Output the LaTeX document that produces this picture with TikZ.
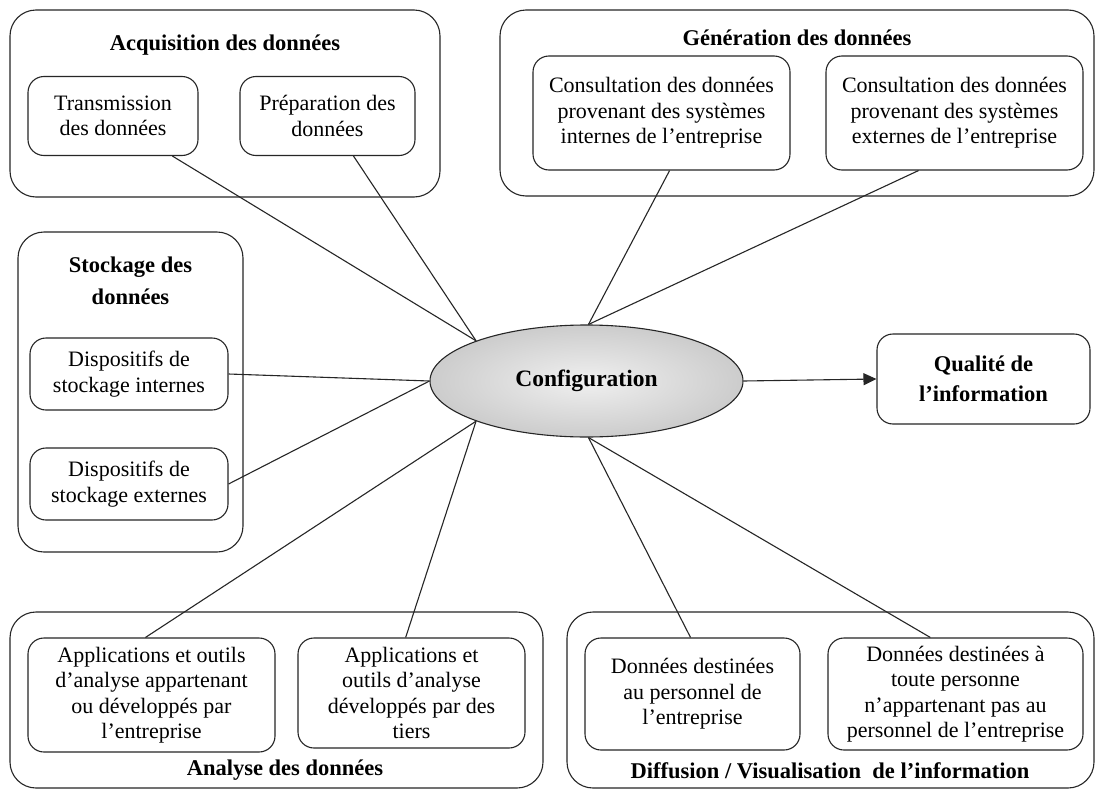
\documentclass[tikz,border=0pt]{standalone}
\usepackage{fontspec}
\setmainfont{Liberation Serif}
\usetikzlibrary{shapes.geometric,arrows.meta}
\begin{document}
\begin{tikzpicture}[x=1pt,y=-1pt,
  outerbox/.style={draw=black!85, rounded corners=26pt, line width=1.1pt, inner sep=0pt},
  innerbox/.style={draw=black!85, rounded corners=16pt, line width=1.1pt, align=center, inner sep=0pt, font=\fontsize{22}{25.5}\selectfont},
  titletext/.style={align=center, inner sep=0pt, font=\fontsize{22.5}{32}\selectfont\bfseries},
  link/.style={draw=black!85, line width=1.1pt}]
\useasboundingbox (0,0) rectangle (1104,798);
\fill[white] (0,0) rectangle (1104,798);

% Acquisition
\node[outerbox, minimum width=430pt, minimum height=187pt] (acq) at (225,103.5) {};
\node[titletext] (acqt) at (225,45) {Acquisition des données};
\node[innerbox, minimum width=170pt, minimum height=79pt] (trans) at (113,116) {Transmission\\des données};
\node[innerbox, minimum width=175pt, minimum height=79pt] (prep) at (327.5,116) {Préparation des\\données};

% Generation
\node[outerbox, minimum width=594pt, minimum height=186pt] (gen) at (797,103) {};
\node[titletext] (gent) at (797,38) {Génération des données};
\node[innerbox, minimum width=257pt, minimum height=114pt] (cint) at (661.5,113) {Consultation des données\\provenant des systèmes\\internes de l’entreprise};
\node[innerbox, minimum width=257pt, minimum height=114pt] (cext) at (954.5,113) {Consultation des données\\provenant des systèmes\\externes de l’entreprise};

% Stockage
\node[outerbox, minimum width=225pt, minimum height=320pt] (sto) at (130.5,392) {};
\node[titletext] (stot) at (130.5,281) {Stockage des\\données};
\node[innerbox, minimum width=198pt, minimum height=72pt] (dint) at (129,374) {Dispositifs de\\stockage internes};
\node[innerbox, minimum width=198pt, minimum height=72pt] (dext) at (129,484) {Dispositifs de\\stockage externes};

% Configuration
\node[ellipse, draw=black!85, line width=1.1pt, minimum width=313pt, minimum height=112pt, inner sep=0pt,
      inner color=black!6, outer color=black!20, font=\fontsize{23.5}{28}\selectfont\bfseries] (cfg) at (586.5,381) {Configuration};

% Qualite
\node[innerbox, minimum width=213pt, minimum height=90pt, font=\fontsize{22.5}{30}\selectfont\bfseries] (qual) at (983.5,379) {Qualité de\\l’information};

% Analyse
\node[outerbox, minimum width=533pt, minimum height=176pt] (ana) at (276.5,700) {};
\node[titletext] (anat) at (285,770) {Analyse des données};
\node[innerbox, minimum width=247pt, minimum height=114pt] (app1) at (151.5,695) {Applications et outils\\d’analyse appartenant\\ou développés par\\l’entreprise};
\node[innerbox, minimum width=227pt, minimum height=110pt] (app2) at (411.5,693) {Applications et\\outils d’analyse\\développés par des\\tiers};

% Diffusion
\node[outerbox, minimum width=527pt, minimum height=176pt] (dif) at (830.5,700) {};
\node[titletext] (dift) at (830,771) {Diffusion / Visualisation\ \ de l’information};
\node[innerbox, minimum width=215pt, minimum height=112pt] (don1) at (692.5,694) {Données destinées\\au personnel de\\l’entreprise};
\node[innerbox, minimum width=255pt, minimum height=112pt] (don2) at (955.5,694) {Données destinées à\\toute personne\\n’appartenant pas au\\personnel de l’entreprise};

% Connectors
\draw[link] (trans.-34.7) -- (cfg.160);
\draw[link] (prep.-57.2) -- (cfg.160);
\draw[link] (cint.-82.5) -- (cfg.88);
\draw[link] (cext.-122.6) -- (cfg.88);
\draw[link] (dint.east) -- (cfg.west);
\draw[link] (dext.east) -- (cfg.west);
\draw[link] (app1.96.5) -- (cfg.200);
\draw[link] (app2.96.7) -- (cfg.200);
\draw[link] (don1.92.5) -- (cfg.-88);
\draw[link] (don2.114.5) -- (cfg.-88);
\draw[link, -{Triangle[length=13pt,width=12pt]}] (cfg.east) -- (qual.west);
\end{tikzpicture}
\end{document}
